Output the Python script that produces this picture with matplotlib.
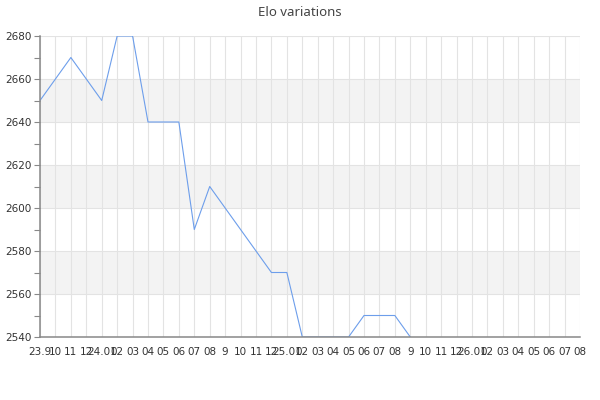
import matplotlib.pyplot as plt
from matplotlib.ticker import MultipleLocator
import pandas as pd

# rating list months and elo (vertices)
months = ["2023-09", "2023-11", "2024-01", "2024-02", "2024-03", "2024-04",
          "2024-06", "2024-07", "2024-08", "2024-12", "2025-01", "2025-02",
          "2025-05", "2025-06", "2025-08", "2025-09"]
elo = [2650, 2670, 2650, 2680, 2680, 2640,
       2640, 2590, 2610, 2570, 2570, 2540,
       2540, 2550, 2550, 2540]

tick_labels = ["23.9", "10", "11", "12",
               "24.01", "02", "03", "04", "05", "06", "07", "08", "9", "10", "11", "12",
               "25.01", "02", "03", "04", "05", "06", "07", "08", "9", "10", "11", "12",
               "26.01", "02", "03", "04", "05", "06", "07", "08"]

start = pd.Period("2023-09", freq="M")
x = [(pd.Period(m, freq="M") - start).n for m in months]

fig = plt.figure(figsize=(6, 4), dpi=100)
ax = fig.add_axes([40 / 600, 1 - 337 / 400, 540 / 600, 301 / 400])

for lo in (2560, 2600, 2640):
    ax.axhspan(lo, lo + 20, color="#f3f3f3", zorder=0, lw=0)

ax.plot(x, elo, color="#6d9eeb", lw=0.8, zorder=2)

ax.set_xlim(0, len(tick_labels) - 1)
ax.set_ylim(2540, 2680)
ax.set_xticks(range(len(tick_labels)))
ax.set_xticklabels(tick_labels, fontsize=7.5, color="#333333")
ax.yaxis.set_major_locator(MultipleLocator(20))
ax.yaxis.set_minor_locator(MultipleLocator(10))
ax.tick_params(axis="y", which="both", length=4, width=0.8, color="#888888",
               labelsize=7.5, labelcolor="#333333", pad=2)
ax.tick_params(axis="x", length=0, pad=7)

ax.grid(True, color="#e3e3e3", lw=0.8, zorder=1)
ax.set_axisbelow(True)
for side in ("top", "right"):
    ax.spines[side].set_visible(False)
for side in ("left", "bottom"):
    ax.spines[side].set_color("#888888")
    ax.spines[side].set_linewidth(1.1)
    ax.spines[side].set_zorder(3)

fig.text(0.5, 1 - 12 / 400, "Elo variations", ha="center", va="center",
         fontsize=9.5, color="#444444", family="Noto Sans")

fig.savefig("out.png", dpi=100)
